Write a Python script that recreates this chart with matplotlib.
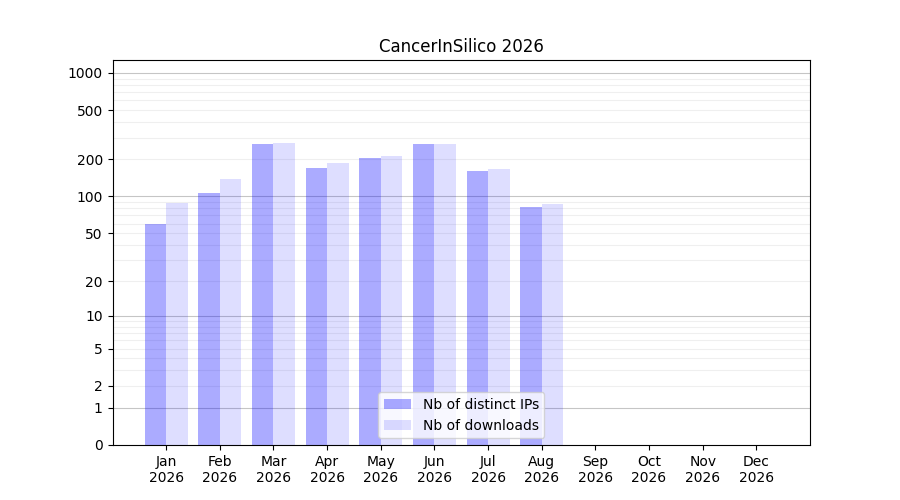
import numpy as np
import matplotlib
matplotlib.use("Agg")
import matplotlib.pyplot as plt
from matplotlib.ticker import FixedLocator, FixedFormatter

months = ["Jan", "Feb", "Mar", "Apr", "May", "Jun", "Jul", "Aug", "Sep", "Oct", "Nov", "Dec"]
year = "2026"
distinct_ips = [60, 107, 266, 170, 205, 266, 161, 82, 0, 0, 0, 0]
downloads = [89, 139, 272, 186, 212, 266, 167, 87, 0, 0, 0, 0]
ytick_values = [0, 1, 2, 5, 10, 20, 50, 100, 200, 500, 1000]

def fwd(x):
    return np.log10(np.maximum(x, 0) + 1)

def inv(y):
    return 10 ** y - 1

fig, ax = plt.subplots(figsize=(9, 5), dpi=100)
x = np.arange(len(months))
ax.bar(x - 0.2, distinct_ips, width=0.4, color="blue", alpha=0.33, label="Nb of distinct IPs")
ax.bar(x + 0.2, downloads, width=0.4, color="blue", alpha=0.13, label="Nb of downloads")

ax.set_yscale("function", functions=(fwd, inv))
ax.set_ylim(0, 1272)
ax.set_xlim(-1, 12)
ax.yaxis.set_major_locator(FixedLocator(ytick_values))
ax.yaxis.set_major_formatter(FixedFormatter([str(v) for v in ytick_values]))

grid_major = [1, 10, 100, 1000]
grid_minor = [m * d for d in (1, 10, 100) for m in range(2, 10)]
for g in grid_major:
    ax.axhline(g, color="gray", alpha=0.45, linewidth=0.8, zorder=0)
for g in grid_minor:
    ax.axhline(g, color="gray", alpha=0.12, linewidth=0.8, zorder=0)

ax.set_xticks(x)
ax.set_xticklabels([f"{m}\n{year}" for m in months])
ax.set_title("CancerInSilico 2026")
ax.legend(loc="lower center")
fig.savefig("out.png", dpi=100)
